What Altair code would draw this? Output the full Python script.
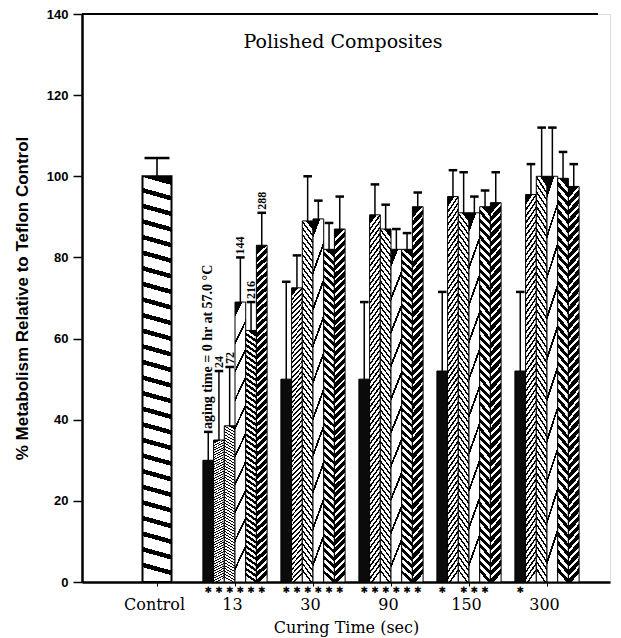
import altair as alt
import pandas as pd

# ---------------- data ----------------
groups = ["13", "30", "90", "150", "300"]          # curing time (sec)
series = ["0", "24", "72", "144", "216", "288"]     # aging time (hr)
means = {
    "0":   [30.0, 50.0, 50.0, 52.0, 52.0],
    "24":  [35.0, 72.5, 90.5, 95.0, 95.5],
    "72":  [38.5, 89.0, 87.0, 91.0, 100.0],
    "144": [69.0, 89.5, 82.0, 91.0, 100.0],
    "216": [62.0, 82.0, 82.0, 92.5, 99.5],
    "288": [83.0, 87.0, 92.5, 93.5, 97.5],
}
sds = {
    "0":   [7.0, 24.0, 19.0, 19.5, 19.5],
    "24":  [17.0, 8.0, 7.5, 6.5, 7.5],
    "72":  [14.5, 11.0, 6.0, 10.0, 12.0],
    "144": [11.0, 4.5, 5.0, 4.0, 12.0],
    "216": [7.0, 6.5, 4.0, 4.0, 6.5],
    "288": [8.0, 8.0, 3.5, 7.5, 5.5],
}
stars = {  # significance marks below the bars
    "0":   [1, 1, 1, 1, 1],
    "24":  [1, 1, 1, 0, 0],
    "72":  [1, 1, 1, 1, 0],
    "144": [1, 1, 1, 1, 0],
    "216": [1, 1, 1, 1, 0],
    "288": [1, 1, 1, 0, 0],
}
control_mean = 100.0
control_sd = 4.5
x_labels = ["Control", "13", "30", "90", "150", "300"]
annot = ["aging time = 0 hr at 57.0 \u00b0C", "24", "72", "144", "216", "288"]
y_ticks = [0, 20, 40, 60, 80, 100, 120, 140]
title_text = "Polished Composites"

rows = []
for gi, g in enumerate(groups, start=1):
    for si, s in enumerate(series):
        rows.append({
            "gi": gi, "si": si, "group": g, "series": s,
            "mean": means[s][gi - 1], "sd": sds[s][gi - 1],
            "star": stars[s][gi - 1],
            "annot": annot[si] if gi == 1 else "",
        })
df = pd.DataFrame(rows)
ctrl = pd.DataFrame({"gi": [0], "mean": [control_mean], "sd": [control_sd]})

# ---------------- layout ----------------
W, H = 528, 568
PX = 78.0                      # pixels per group step
BW = 10.7 / PX                 # bar width in group units
CW = 29.0 / PX                 # control bar width
xscale = alt.Scale(domain=[-75 / PX, -75 / PX + W / PX], nice=False, zero=False)
yscale = alt.Scale(domain=[0, 140], nice=False)


def stripes(n, frac, fg, bg, slant):
    stops = []
    for i in range(n):
        a = i / n
        b = (i + frac) / n
        c = (i + 1) / n
        stops += [alt.GradientStop(offset=a, color=fg), alt.GradientStop(offset=b, color=fg),
                  alt.GradientStop(offset=b, color=bg), alt.GradientStop(offset=c, color=bg)]
    return alt.LinearGradient(gradient="linear", stops=stops,
                              x1=0.5, y1=0, x2=0.5 + slant, y2=1)


patterns = [
    "#0b0b0b",
    stripes(60, 0.40, "black", "white", 0.04),
    stripes(55, 0.35, "black", "white", -0.04),
    stripes(10, 0.14, "black", "white", 0.08),
    stripes(45, 0.50, "black", "white", -0.03),
    stripes(45, 0.65, "black", "white", 0.03),
]
ctrl_pattern = stripes(26, 0.30, "black", "white", -0.02)

x_axis = alt.Axis(
    values=list(range(len(x_labels))),
    labelExpr="[" + ",".join("'%s'" % l for l in x_labels) + "][round(datum.value)]",
    title="Curing Time (sec)", titleFont="DejaVu Serif", titleFontSize=16,
    titleFontWeight="normal", titleColor="black", titlePadding=7,
    labelFont="DejaVu Serif", labelFontSize=16, labelColor="black",
    labelPadding=10, labelOffset=-3, labelFlush=False,
    tickSize=4, tickColor="black", tickWidth=1,
    domainColor="black", domainWidth=2.5, grid=False,
)
y_axis = alt.Axis(
    values=y_ticks, title="% Metabolism Relative to Teflon Control",
    titleFont="Liberation Sans", titleFontSize=17, titleFontWeight="bold",
    titleColor="black", titlePadding=15,
    labelFont="Liberation Sans", labelFontSize=13, labelFontWeight="bold",
    labelColor="black", labelPadding=5,
    tickSize=9, tickColor="black", tickWidth=1.5,
    domainColor="black", domainWidth=2.5, grid=False,
)


def X(field):
    return alt.X(field, type="quantitative", scale=xscale, axis=x_axis)


def Y(field):
    return alt.Y(field, type="quantitative", scale=yscale, axis=y_axis)


base = alt.Chart(df).transform_calculate(
    x0=f"datum.gi + (datum.si - 3) * {BW}",
    x1=f"datum.gi + (datum.si - 2) * {BW}",
    xc=f"datum.gi + (datum.si - 2.5) * {BW}",
    top="datum.mean + datum.sd",
    cl=f"datum.gi + (datum.si - 2.5) * {BW} - {BW * 0.4}",
    cr=f"datum.gi + (datum.si - 2.5) * {BW} + {BW * 0.4}",
)

layers = []
for k, pat in enumerate(patterns):
    layers.append(
        base.transform_filter(f"datum.si == {k}")
        .mark_bar(fill=pat, stroke="black", strokeWidth=1)
        .encode(x=X("x0"), x2="x1:Q", y=Y("mean"), y2=alt.datum(0))
    )

ctrl_base = alt.Chart(ctrl).transform_calculate(
    x0=f"datum.gi - {CW / 2}", x1=f"datum.gi + {CW / 2}",
    top="datum.mean + datum.sd",
    cl=f"datum.gi - {CW * 0.43}", cr=f"datum.gi + {CW * 0.43}",
)
ctrl_bar = ctrl_base.mark_bar(fill=ctrl_pattern, stroke="black", strokeWidth=2).encode(
    x=X("x0"), x2="x1:Q", y=Y("mean"), y2=alt.datum(0),
)
ctrl_err = ctrl_base.mark_rule(color="black", strokeWidth=1.6).encode(
    x=X("gi"), y=Y("mean"), y2="top:Q",
)
ctrl_cap = ctrl_base.mark_rule(color="black", strokeWidth=2.5).encode(
    x=X("cl"), x2="cr:Q", y=Y("top"),
)

err = base.mark_rule(color="black", strokeWidth=1.5).encode(
    x=X("xc"), y=Y("mean"), y2="top:Q",
)
cap = base.mark_rule(color="black", strokeWidth=2.5).encode(
    x=X("cl"), x2="cr:Q", y=Y("top"),
)
star_marks = base.transform_filter("datum.star == 1").mark_text(
    text="\u2731", font="DejaVu Sans", fontSize=9, color="black",
    baseline="middle", align="center",
).encode(x=X("xc"), y=alt.value(H + 8))
annot_main = base.transform_filter("datum.gi == 1 && datum.si == 0").mark_text(
    font="Liberation Serif", fontSize=14, fontWeight="bold", color="black",
    angle=270, align="left", baseline="middle", dx=3,
).encode(x=X("xc"), y=Y("top"), text="annot:N")
annot_nums = base.transform_filter("datum.gi == 1 && datum.si > 0").mark_text(
    font="Liberation Serif", fontSize=12, fontWeight="bold", color="black",
    angle=270, align="left", baseline="middle", dx=3,
).encode(x=X("xc"), y=Y("top"), text="annot:N")

top_line = alt.Chart(pd.DataFrame({"y": [140]})).mark_rule(color="black", strokeWidth=2).encode(
    y=Y("y"), x=alt.value(0), x2=alt.value(516),
)
title_mark = alt.Chart(pd.DataFrame({"t": [title_text]})).mark_text(
    font="DejaVu Serif", fontSize=19, color="black", align="center", baseline="middle",
).encode(text="t:N", x=alt.value(261), y=alt.value(28))

chart = alt.layer(
    *layers, ctrl_bar, err, cap, ctrl_err, ctrl_cap, star_marks, annot_main, annot_nums,
    top_line, title_mark
).properties(
    width=W, height=H,
    autosize=alt.AutoSizeParams(type="none"),
    padding={"left": 82, "top": 14, "right": 11, "bottom": 56},
).configure_view(strokeWidth=0).configure(background="white")

chart.save("out.html", embed_options={"renderer": "svg", "actions": False})
